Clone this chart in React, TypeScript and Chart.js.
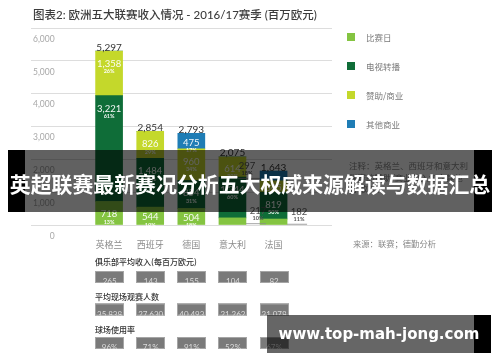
import React, { useEffect, useRef } from 'react';
import { Chart, registerables } from 'chart.js';

Chart.register(...registerables);

// ---------- data ----------
const categories = ['英格兰', '西班牙', '德国', '意大利', '法国'];
const seriesNames = ['比赛日', '电视转播', '赞助/商业', '其他商业'];
const matchday = [718, 544, 504, 217, 182];
const broadcast = [3221, 1484, 854, 1244, 819];
const sponsorship = [1358, 826, 960, 614, 345];
const otherCommercial = [0, 0, 475, 0, 297];
const matchdayPct = [13, 19, 18, 10, 11];
const broadcastPct = [61, 52, 31, 60, 50];
const sponsorshipPct = [26, 29, 34, 30, 21];
const otherPct = [0, 0, 17, 0, 18];
const yTicks = [0, 1000, 2000, 3000, 4000, 5000, 6000];
const tableTitles = ['俱乐部平均收入(每百万欧元)', '平均现场观赛人数', '球场使用率'];
const avgClubRevenue = ['265', '143', '155', '104', '82'];
const avgAttendance = ['35,838', '27,630', '40,493', '21,262', '21,078'];
const stadiumUse = ['96%', '71%', '91%', '52%', '67%'];
const noteLines = ['注释：英格兰、西班牙和意大利', '联赛的赞助/商业收入包含其他', '合 收入。'];
const sourceText = '来源：联赛；德勤分析';
const titleText = '图表2: 欧洲五大联赛收入情况 - 2016/17赛季 (百万欧元)';
const bannerText = '英超联赛最新赛况分析五大权威来源解读与数据汇总';
const watermarkText = 'www.top-mah-jong.com';

const COLORS = ['#84c441', '#0f6d38', '#c4d82b', '#1f7db5'];
const CJK = "'Noto Sans CJK SC', sans-serif";
const NUM = "Lato, 'Noto Sans CJK SC', sans-serif";

const seriesValues = [matchday, broadcast, sponsorship, otherCommercial];
const seriesPcts = [matchdayPct, broadcastPct, sponsorshipPct, otherPct];
const tableValues = [avgClubRevenue, avgAttendance, stadiumUse];

const fmt = (v: number) => v.toLocaleString('en-US');

const labelPlugin = {
  id: 'barLabels',
  afterDatasetsDraw(chart: any) {
    const ctx = chart.ctx as CanvasRenderingContext2D;
    ctx.save();
    const tops: number[] = categories.map(() => Infinity);
    seriesValues.forEach((vals, di) => {
      const meta = chart.getDatasetMeta(di);
      meta.data.forEach((bar: any, i: number) => {
        const v = vals[i];
        if (!v) return;
        const p = bar.getProps(['x', 'y', 'base', 'width'], true);
        const top = Math.min(p.y, p.base);
        const h = Math.abs(p.base - p.y);
        tops[i] = Math.min(tops[i], top);
        const pct = seriesPcts[di][i];
        if (h >= 11) {
          ctx.fillStyle = 'rgba(255,255,255,0.95)';
          ctx.textAlign = 'center';
          ctx.textBaseline = 'middle';
          const vy = top + Math.min(13, h / 2 + 1.5);
          ctx.font = `9.5px ${NUM}`;
          ctx.fillText(fmt(v), p.x, vy);
          if (h >= 15) {
            ctx.font = `bold 5.5px ${NUM}`;
            ctx.fillText(pct + '%', p.x, vy + 7.5);
          }
        } else {
          const segY = top + h / 2;
          const left = di === 3;
          const edge = left ? p.x - p.width / 2 : p.x + p.width / 2;
          const lx = left ? edge - 13 : edge + 12;
          ctx.strokeStyle = '#8a8a8a';
          ctx.lineWidth = 0.8;
          ctx.beginPath();
          ctx.moveTo(edge, segY + 2.5);
          ctx.lineTo(left ? edge - 22 : edge + 20, segY + 2.5);
          ctx.stroke();
          ctx.fillStyle = '#555';
          ctx.textAlign = 'center';
          ctx.textBaseline = 'middle';
          ctx.font = `9.5px ${NUM}`;
          ctx.fillText(fmt(v), lx, segY - 10);
          ctx.font = `bold 5.5px ${NUM}`;
          ctx.fillText(pct + '%', lx, segY - 2.5);
        }
      });
    });
    // totals
    const xs = chart.scales.x;
    ctx.fillStyle = '#333';
    ctx.font = `10px ${NUM}`;
    ctx.textAlign = 'center';
    ctx.textBaseline = 'alphabetic';
    categories.forEach((_, i) => {
      const total = seriesValues.reduce((s, arr) => s + arr[i], 0);
      ctx.fillText(fmt(total), xs.getPixelForValue(i), tops[i] - 0.5);
    });
    // table below
    const rowLabelY = [262, 296.5, 329.5];
    const boxTop = [271, 303.5, 337];
    tableTitles.forEach((t, r) => {
      ctx.fillStyle = '#333';
      ctx.font = `500 8px ${CJK}`;
      ctx.textAlign = 'left';
      ctx.textBaseline = 'middle';
      ctx.fillText(t, xs.getPixelForValue(0) - 14, rowLabelY[r]);
      tableValues[r].forEach((val, i) => {
        const cx = xs.getPixelForValue(i) + 0.5;
        const bx = Math.round(cx - 14.5);
        const by = boxTop[r];
        ctx.fillStyle = '#7a7a7a';
        ctx.fillRect(bx, by, 29, 12);
        ctx.strokeStyle = '#a5a5a5';
        ctx.lineWidth = 1;
        ctx.strokeRect(bx + 0.5, by + 0.5, 28, 11);
        ctx.save();
        ctx.beginPath();
        ctx.rect(bx, by, 29, 12);
        ctx.clip();
        ctx.fillStyle = '#dcdcdc';
        ctx.font = `8px ${NUM}`;
        ctx.textAlign = 'center';
        ctx.textBaseline = 'alphabetic';
        ctx.fillText(val, cx, by + 13);
        ctx.restore();
      });
    });
    ctx.restore();
  },
};

export default function App() {
  const ref = useRef<HTMLCanvasElement>(null);
  useEffect(() => {
    const chart = new Chart(ref.current as HTMLCanvasElement, {
      type: 'bar',
      data: {
        datasets: seriesNames.map((name, di) => ({
          label: name,
          data: seriesValues[di].map((v, i) => ({ x: i, y: v })),
          backgroundColor: COLORS[di],
          borderWidth: 0,
          barThickness: 27,
        })),
      },
      options: {
        animation: false,
        responsive: false,
        devicePixelRatio: 1,
        layout: { padding: { left: 27, right: 168, top: 28, bottom: 106.2 } },
        plugins: { legend: { display: false }, tooltip: { enabled: false } },
        scales: {
          x: {
            type: 'linear',
            min: -1.167,
            max: 4.689,
            stacked: true,
            grid: { display: false },
            border: { display: false },
            afterBuildTicks: (s: any) => {
              s.ticks = categories.map((_, i) => ({ value: i }));
            },
            ticks: {
              autoSkip: false,
              maxRotation: 0,
              padding: 6,
              color: '#8c8c8c',
              font: { family: CJK, size: 9 },
              callback: (v: any) => categories[v] ?? '',
            },
          },
          y: {
            min: 0,
            max: 6000,
            stacked: true,
            afterBuildTicks: (s: any) => {
              s.ticks = yTicks.map((v) => ({ value: v }));
            },
            grid: { color: '#dddddd', drawTicks: false, lineWidth: 1 },
            border: { display: false },
            ticks: {
              mirror: true,
              crossAlign: 'far',
              padding: 2,
              labelOffset: 11,
              color: '#a8a8a8',
              font: { family: NUM, size: 8.5 },
              callback: (v: any) => fmt(Number(v)),
            },
          },
        },
      } as any,
      plugins: [labelPlugin],
    });
    return () => chart.destroy();
  }, []);

  return (
    <div style={{ position: 'fixed', left: 0, top: 0, width: 500, height: 362, background: '#fff', overflow: 'hidden' }}>
      <canvas ref={ref} width={500} height={362} style={{ position: 'absolute', left: 0, top: 0, width: 500, height: 362 }} />
      <div style={{ position: 'absolute', left: 33, top: 7, lineHeight: '16px', fontSize: 11.5, fontWeight: 500, color: '#3c3c3c', fontFamily: NUM, whiteSpace: 'nowrap' }}>
        {titleText}
      </div>
      {seriesNames.map((n, i) => (
        <div key={n} style={{ position: 'absolute', left: 347, top: 31 + i * 29, height: 12, display: 'flex', alignItems: 'center' }}>
          <div style={{ width: 8, height: 8, background: COLORS[i] }} />
          <div style={{ marginLeft: 11, fontSize: 8.5, color: '#7a7a7a', fontFamily: CJK, lineHeight: '12px', whiteSpace: 'nowrap' }}>{n}</div>
        </div>
      ))}
      {noteLines.map((l, i) => (
        <div key={i} style={{ position: 'absolute', left: 349, top: 159 + i * 11.5, fontSize: 8.5, lineHeight: '12px', color: '#888', fontFamily: CJK, whiteSpace: 'nowrap' }}>{l}</div>
      ))}
      <div style={{ position: 'absolute', left: 353, top: 237, fontSize: 8.3, lineHeight: '12px', color: '#888', fontFamily: CJK, whiteSpace: 'nowrap' }}>{sourceText}</div>
      <div style={{ position: 'absolute', left: 8, top: 150, width: 484, height: 62, background: 'linear-gradient(to right, #000 0px, #000 17px, rgba(0,0,0,0.62) 17px, rgba(0,0,0,0.62) 466px, #000 466px, #000 484px)' }} />
      <div style={{ position: 'absolute', left: 0, top: 152, width: 500, height: 62, lineHeight: '62px', textAlign: 'center', color: '#fff', fontWeight: 700, fontSize: 20.9, fontFamily: CJK, whiteSpace: 'nowrap' }}>
        {bannerText}
      </div>
      <div style={{ position: 'absolute', left: 267, top: 315, width: 224, height: 38, background: 'linear-gradient(to right, rgba(0,0,0,0.6) 0px, rgba(0,0,0,0.6) 207px, #000 207px, #000 224px)' }} />
      <div style={{ position: 'absolute', left: 267, top: 315, width: 224, height: 38, lineHeight: '38px', textAlign: 'center', color: '#fff', fontWeight: 700, fontSize: 15, fontFamily: "'DejaVu Sans', sans-serif", whiteSpace: 'nowrap' }}>
        {watermarkText}
      </div>
    </div>
  );
}
